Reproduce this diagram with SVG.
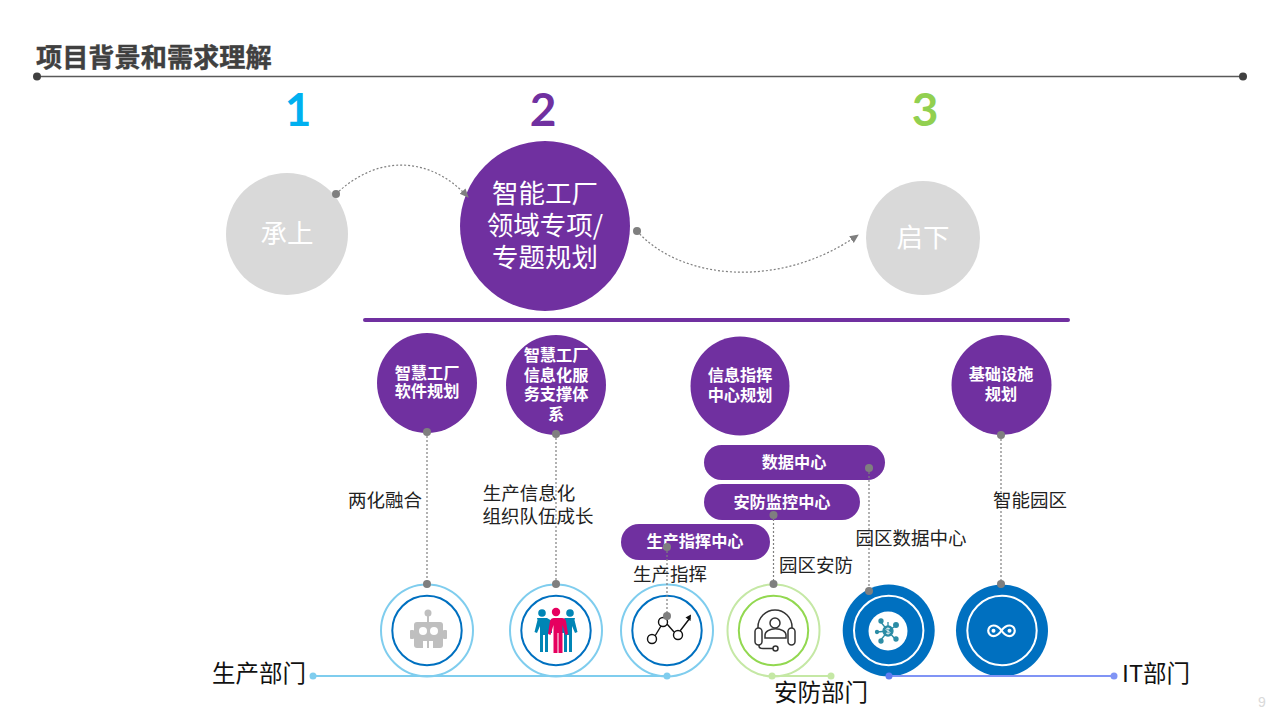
<svg xmlns="http://www.w3.org/2000/svg" width="1280" height="720" viewBox="0 0 1280 720">
<style>
text{font-family:"Noto Sans CJK SC","Liberation Sans",sans-serif;text-anchor:middle}
.lab{font-size:18.500px;fill:#222}
.dept{font-size:23.500px;fill:#111}
.w{fill:#fff;font-weight:700;font-size:16.200px}
.big{font-size:26.500px;fill:#fff}
.p{fill:#7030a0}
.dot{fill:#7f7f7f}
.dash{fill:none;stroke:#7f7f7f;stroke-width:1.200;stroke-dasharray:2 2}
.num{font-family:Lato,"Liberation Sans",sans-serif;font-size:46px;font-weight:700}
.o{fill:#fff;stroke:#7fcdee;stroke-width:2}
.i{fill:none;stroke:#0070c0;stroke-width:2}
</style>
<defs>
<marker id="ah" markerWidth="9" markerHeight="9" refX="8" refY="4" orient="auto" markerUnits="userSpaceOnUse"><path d="M0 0L9 4L0 8Z" fill="#7f7f7f"/></marker>
</defs>
<g id="title">
<text x="36" y="67" style="text-anchor:start;font-size:26.200px;font-weight:700;fill:#404040;stroke:#404040;stroke-width:.4">项目背景和需求理解</text>
<line x1="37" y1="76.500" x2="1243" y2="76.500" stroke="#595959" stroke-width="1.500"/>
<circle cx="37" cy="76.500" r="4" fill="#404040"/><circle cx="1243" cy="76.500" r="4" fill="#404040"/>
</g>
<g id="numbers">
<text class="num" x="298" y="126" fill="#00b0f0">1</text>
<text class="num" x="543" y="126" fill="#7030a0">2</text>
<text class="num" x="925" y="126" fill="#92d050">3</text>
</g>
<g id="node-chengshang"><circle cx="287" cy="234" r="61" fill="#d9d9d9"/><text class="big" x="287" y="243">承上</text></g>
<g id="node-main"><circle cx="545" cy="226" r="85" class="p"/>
<text class="big"><tspan x="545" y="203">智能工厂</tspan><tspan x="545" y="235">领域专项/</tspan><tspan x="545" y="267">专题规划</tspan></text></g>
<g id="node-qixia"><circle cx="923" cy="238" r="57" fill="#d9d9d9"/><text class="big" x="923" y="247">启下</text></g>
<rect id="divider" x="363" y="318" width="707" height="4" rx="2" class="p"/>
<g id="node-s1"><circle cx="427" cy="383" r="50" class="p"/><text class="w"><tspan x="427" y="379">智慧工厂</tspan><tspan x="427" y="397">软件规划</tspan></text></g>
<g id="node-s2"><circle cx="556" cy="385" r="50" class="p"/><text class="w"><tspan x="556" y="361">智慧工厂</tspan><tspan x="556" y="381">信息化服</tspan><tspan x="556" y="400">务支撑体</tspan><tspan x="556" y="420">系</tspan></text></g>
<g id="node-s3"><circle cx="740" cy="386" r="49.500" class="p"/><text class="w"><tspan x="740" y="381">信息指挥</tspan><tspan x="740" y="401">中心规划</tspan></text></g>
<g id="node-s4"><circle cx="1001.500" cy="385" r="50" class="p"/><text class="w"><tspan x="1001" y="380">基础设施</tspan><tspan x="1001" y="400">规划</tspan></text></g>
<g id="pill-data"><rect x="704" y="445" width="181" height="35" rx="17.500" class="p"/><text class="w" x="794" y="468">数据中心</text></g>
<g id="pill-sec"><rect x="704" y="484" width="156" height="36" rx="18" class="p"/><text class="w" x="782" y="508">安防监控中心</text></g>
<g id="pill-prod"><rect x="621" y="524" width="149" height="36" rx="18" class="p"/><text class="w" x="695" y="547">生产指挥中心</text></g>
<g id="node-robot"><circle class="o" cx="427" cy="630.500" r="46"/><circle class="i" cx="427" cy="630.500" r="34.700"/>
<g fill="#bfbfbf"><circle cx="428" cy="613" r="3.500"/><rect x="427" y="615" width="2" height="7"/><rect x="414" y="622" width="29" height="26" rx="3"/><rect x="410" y="630" width="4" height="9" rx="1"/><rect x="443" y="630" width="4" height="9" rx="1"/></g>
<circle cx="423" cy="631" r="4" fill="#fff"/><circle cx="434" cy="631" r="4" fill="#fff"/><rect x="423" y="641" width="4" height="7" fill="#fff"/><rect x="429" y="641" width="4" height="7" fill="#fff"/></g>
<g id="node-people"><circle class="o" cx="556" cy="630.500" r="46"/><circle class="i" cx="556" cy="630.500" r="34.700"/>
<g fill="#0085b5"><circle cx="542" cy="613" r="3.800"/><path d="M537 618h10l5 3v12h-4v19h-3v-17h-2v17h-3v-26l-3 7l-2.500-1l3-12z"/><circle cx="570" cy="613" r="3.800"/><path d="M575 618h-10l-5 3v12h4v19h3v-17h2v17h3v-26l3 7l2.500-1l-3-12z"/></g>
<g fill="#e6005f"><circle cx="556" cy="612" r="4.200"/><path d="M550 618h12q3 0 4 3l2 13l-2.500 1l-3-10v28h-4v-20h-1v20h-4v-28l-3 10l-2.500-1l2-13q1-3 4-3z"/></g></g>
<g id="node-chart"><circle class="o" cx="667" cy="630.500" r="46"/><circle class="i" cx="667" cy="630.500" r="34.700"/>
<g fill="#fff" stroke="#111" stroke-width="1.400"><path d="M655 636L661 626M667 624L674 632M680 631L690 618" fill="none"/><circle cx="652" cy="639" r="4.500"/><circle cx="663" cy="622" r="4.500"/><circle cx="678" cy="635" r="4.500"/></g><path d="M685.500 617.500l5.500-3l-.5 6.500z" fill="#111"/></g>
<g id="node-headset"><circle cx="773.500" cy="630.500" r="46" fill="#fff" stroke="#c5e8a5" stroke-width="2"/><circle cx="773.500" cy="630.500" r="34.700" fill="none" stroke="#92d850" stroke-width="2"/>
<g fill="none" stroke="#333" stroke-width="1.500"><path d="M758 628v-1a17 17 0 0 1 34 0v1"/><rect x="755" y="628" width="7" height="17" rx="3.500"/><rect x="788" y="628" width="7" height="17" rx="3.500"/><circle cx="775" cy="623" r="5"/><path d="M765 638v-3a10 6 0 0 1 21 0v3z"/><path d="M759 645v1c0 2 2 2.500 4 2.500h10"/><circle cx="775.500" cy="648.500" r="2.500"/></g></g>
<g id="node-dollar"><circle cx="888.700" cy="630.500" r="46" fill="#0070c0"/><circle cx="888.700" cy="630.500" r="34.700" fill="none" stroke="#fff" stroke-width="2"/><circle cx="888" cy="631" r="19.500" fill="#fff"/>
<g stroke="#2b8ca5" stroke-width="1.300" fill="#2b8ca5"><path d="M888 631L880 621M888 631L897 625M888 631L877 632M888 631L880 641M888 631L896 640M888 631L888 622"/><circle cx="881" cy="621" r="2"/><circle cx="896" cy="625" r="2.300"/><circle cx="877" cy="632" r="1.500"/><circle cx="881" cy="641" r="2"/><circle cx="896" cy="639" r="2"/><circle cx="888" cy="631" r="5"/></g>
<path d="M890 629c-1-1-4-1-4 .5s4 1.500 4 3s-3 1.500-4 .5M888 627.500v7" fill="none" stroke="#fff" stroke-width=".8"/></g>
<g id="node-infinity"><circle cx="1002" cy="630.500" r="46" fill="#0070c0"/><circle cx="1002" cy="630.500" r="34.700" fill="none" stroke="#fff" stroke-width="2"/>
<path d="M1001.500 630.500c-3-4-5-5-8-5a5.300 5.300 0 0 0 0 10.600c3 0 5-1 8-5.600c3-4 5-5 8-5a5.300 5.300 0 0 1 0 10.600c-3 0-5-1-8-5.600z" fill="none" stroke="#fff" stroke-width="2.200"/><circle cx="993.500" cy="630.800" r="2" fill="#fff"/><circle cx="1009.500" cy="630.800" r="2" fill="#fff"/></g>
<g id="connectors">
<path class="dash" d="M336 194C378 154 430 156 468 197" marker-end="url(#ah)"/>
<path class="dash" d="M637 231C680 280 780 290 858 235" marker-end="url(#ah)"/>
<line class="dash" x1="427" y1="432" x2="427" y2="584"/>
<line class="dash" x1="556" y1="434" x2="556" y2="584"/>
<line class="dash" x1="667" y1="547" x2="667" y2="616"/>
<line class="dash" x1="773.500" y1="515" x2="773.500" y2="584"/>
<line class="dash" x1="869" y1="468" x2="869" y2="591"/>
<line class="dash" x1="1001" y1="435" x2="1001" y2="584"/>
<g class="dot"><circle cx="336" cy="194" r="4"/><circle cx="637" cy="231" r="4"/>
<circle cx="427" cy="432" r="4"/><circle cx="427" cy="584" r="4"/>
<circle cx="556" cy="434" r="4"/><circle cx="556" cy="584" r="4"/>
<circle cx="667" cy="547" r="4"/><circle cx="667" cy="616" r="4"/>
<circle cx="773.500" cy="515" r="4"/><circle cx="773.500" cy="584" r="4"/>
<circle cx="869" cy="468" r="4"/><circle cx="869" cy="591" r="4"/>
<circle cx="1001" cy="435" r="4"/><circle cx="1001" cy="584" r="4"/></g>
<line x1="313" y1="676" x2="667" y2="676" stroke="#7fcdee" stroke-width="2"/><circle cx="313" cy="676" r="3.500" fill="#7fcdee"/><circle cx="667" cy="676" r="3.500" fill="#7fcdee"/>
<line x1="772" y1="676" x2="831" y2="676" stroke="#c5e8a5" stroke-width="2"/><circle cx="772" cy="676" r="3.500" fill="#c5e8a5"/><circle cx="831" cy="676" r="3.500" fill="#c5e8a5"/>
<line x1="889" y1="676" x2="1114" y2="676" stroke="#8094f5" stroke-width="2"/><circle cx="889" cy="676" r="3.500" fill="#5f7cf0"/><circle cx="1114" cy="676" r="3.500" fill="#8094f5"/>
</g>
<g id="labels">
<text class="lab" x="385" y="507">两化融合</text>
<text class="lab" x="529" y="500">生产信息化</text>
<text class="lab" x="538" y="523">组织队伍成长</text>
<text class="lab" x="670" y="581">生产指挥</text>
<text class="lab" x="816" y="572">园区安防</text>
<text class="lab" x="911" y="545">园区数据中心</text>
<text class="lab" x="1030" y="507">智能园区</text>
<text class="dept" x="259" y="682">生产部门</text>
<text class="dept" x="821" y="701">安防部门</text>
<text class="dept" x="1156" y="682">IT部门</text>
<text x="1262" y="707" style="font-size:14px;fill:#d9d9d9;font-family:'Liberation Sans',sans-serif">9</text>
</g>
</svg>
